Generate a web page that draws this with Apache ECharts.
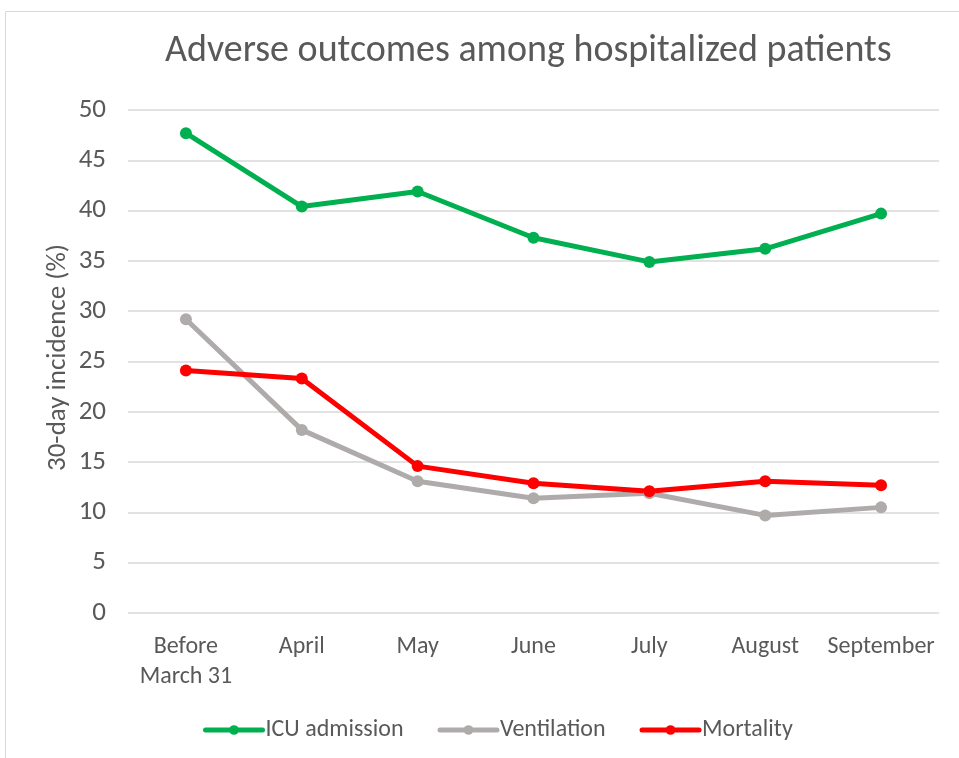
<!DOCTYPE html>
<html><head><meta charset="utf-8">
<script src="https://cdn.jsdelivr.net/npm/echarts@6/dist/echarts.min.js"></script>
<style>html,body{margin:0;padding:0;background:#fff}#c{width:959px;height:758px}</style>
</head><body><div id="c"></div>
<script>
const categories = ['Before\nMarch 31','April','May','June','July','August','September'];
const icu = [47.7, 40.4, 41.9, 37.3, 34.9, 36.2, 39.7];
const ventilation = [29.2, 18.2, 13.1, 11.4, 11.9, 9.7, 10.5];
const mortality = [24.1, 23.3, 14.6, 12.9, 12.1, 13.1, 12.7];
const yTicks = [0, 50, 5];

const FONT = 'Carlito, Lato, "Open Sans", sans-serif';
const chart = echarts.init(document.getElementById('c'));
function ser(name, data, color){
  return {name, type:'line', data, symbol:'circle', symbolSize:12,
    lineStyle:{width:5, color, cap:'round'}, itemStyle:{color}, emphasis:{disabled:true}, z: 3};
}
chart.setOption({
  animation:false,
  textStyle:{fontFamily:FONT},
  graphic:[{type:'rect', shape:{x:5.5,y:11.5,width:1000,height:800},
    style:{fill:'none', stroke:'#d9d9d9', lineWidth:1}, silent:true}],
  title:{text:'Adverse outcomes among hospitalized patients', left:160, top:27,
    textStyle:{fontFamily:FONT, fontSize:38, fontWeight:'normal', color:'#595959'}},
  grid:{left:128, right:20, top:110, bottom:145, containLabel:false},
  legend:{bottom:11, left:198, itemWidth:57, itemHeight:12, itemGap:34,
    lineStyle:{width:5, cap:'round'},
    textStyle:{fontFamily:FONT, fontSize:24, color:'#595959', padding:[0,0,0,-2]},
    data:['ICU admission','Ventilation','Mortality']},
  xAxis:{type:'category', data:categories, boundaryGap:true,
    axisLine:{show:false}, axisTick:{show:false},
    axisLabel:{fontFamily:FONT, fontSize:24, color:'#595959', margin:19, lineHeight:30, interval:0}},
  yAxis:{type:'value', min:yTicks[0], max:yTicks[1], interval:yTicks[2],
    name:'30-day incidence (%)', nameLocation:'middle', nameGap:56, nameRotate:90,
    nameMoveOverlap:false,
    nameTextStyle:{fontFamily:FONT, fontSize:27, color:'#595959', padding:[0,0,0,8]},
    axisLine:{show:false}, axisTick:{show:false},
    axisLabel:{fontFamily:FONT, fontSize:27, color:'#595959', margin:22},
    splitLine:{lineStyle:{color:'#d9d9d9', width:1.5}}},
  series:[ser('ICU admission', icu, '#00B050'), ser('Ventilation', ventilation, '#AFABAB'), ser('Mortality', mortality, '#FF0000')]
});
</script></body></html>
